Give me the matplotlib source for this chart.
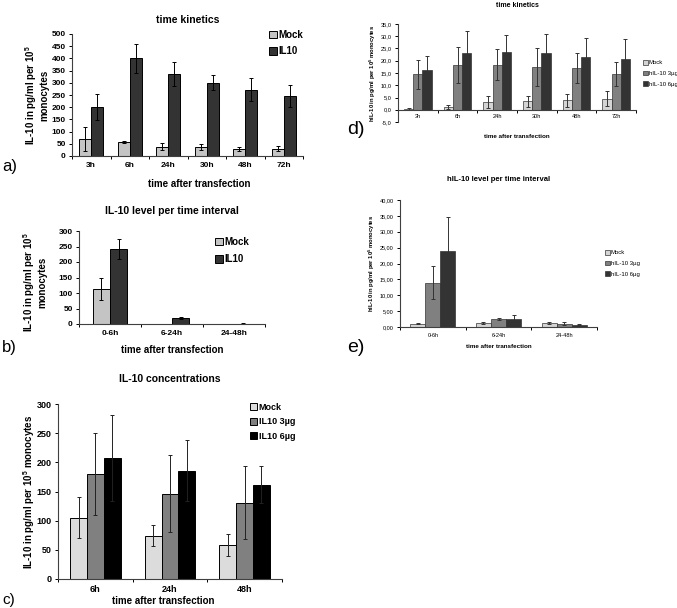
import matplotlib
matplotlib.use('Agg')
import matplotlib.pyplot as plt
import numpy as np
from matplotlib.ticker import FuncFormatter, MultipleLocator

plt.rcParams['font.family'] = ['Liberation Sans', 'DejaVu Sans']
plt.rcParams['mathtext.fontset'] = 'custom'
plt.rcParams['mathtext.rm'] = 'Liberation Sans'
plt.rcParams['mathtext.bf'] = 'Liberation Sans:bold'

# ---------------- data ----------------
a_cats = ['3h', '6h', '24h', '30h', '48h', '72h']
a_mock = [70, 58, 38, 37, 29, 29]
a_mock_err = [50, 5, 15, 13, 9, 10]
a_il10 = [200, 400, 335, 300, 272, 245]
a_il10_err = [53, 59, 49, 30, 46, 45]

b_cats = ['0-6h', '6-24h', '24-48h']
b_mock = [114, 1, 0.5]
b_mock_err = [36, 0, 0]
b_il10 = [243, 19, 1.5]
b_il10_err = [32, 3, 1]

c_cats = ['6h', '24h', '48h']
c_mock = [105, 74, 58]
c_mock_err = [35, 18, 19]
c_3ug = [180, 146, 131]
c_3ug_err = [71, 66, 62]
c_6ug = [208, 186, 162]
c_6ug_err = [74, 52, 31]

d_cats = ['3h', '6h', '24h', '30h', '48h', '72h']
d_mock = [0.4, 1.3, 3.2, 3.4, 3.8, 4.5]
d_mock_err = [0.4, 0.8, 2.4, 2.3, 2.7, 3.0]
d_3ug = [14.4, 18.4, 18.4, 17.4, 17.0, 14.4]
d_3ug_err = [5.9, 7.3, 6.3, 7.7, 6.1, 4.9]
d_6ug = [16.2, 23.3, 23.5, 23.1, 21.5, 20.6]
d_6ug_err = [5.8, 8.9, 7.0, 7.8, 7.7, 8.1]

e_cats = ['0-6h', '6-24h', '24-48h']
e_mock = [1.1, 1.25, 1.3]
e_mock_err = [0.3, 0.2, 0.25]
e_3ug = [14.0, 2.5, 1.05]
e_3ug_err = [5.3, 0.2, 0.4]
e_6ug = [24.0, 2.6, 0.75]
e_6ug_err = [10.6, 1.2, 0.25]

W, H = 677, 608
fig = plt.figure(figsize=(W / 100, H / 100), dpi=100)
fig.patch.set_facecolor('white')


def axpx(l, t, r, b):
    return fig.add_axes([l / W, 1 - b / H, (r - l) / W, (b - t) / H])


def fx(x):
    return x / W


def fy(y):
    return 1 - y / H


def draw_bars(ax, cats, series, width, bold, tick_fs, ecol='black', edge='black', lw=0.7, cap=1.5, xpad=4):
    n = len(cats)
    x = np.arange(n)
    k = len(series)
    for i, (vals, errs, col, lab) in enumerate(series):
        off = (i - (k - 1) / 2) * width
        ax.bar(x + off, vals, width, color=col, edgecolor=edge, linewidth=lw,
               yerr=errs, error_kw=dict(ecolor=ecol, elinewidth=0.7, capsize=cap, capthick=0.7),
               label=lab, zorder=2)
    ax.set_xlim(-0.5, n - 0.5)
    ax.set_xticks(x)
    ax.set_xticklabels(cats)
    ax.set_xticks(np.arange(n + 1) - 0.5, minor=True)
    ax.tick_params(axis='x', which='major', length=0, pad=xpad, labelsize=tick_fs)
    ax.tick_params(axis='x', which='minor', length=2.5, width=0.7, direction='out')
    ax.tick_params(axis='y', length=2.5, width=0.7, direction='out', labelsize=tick_fs, pad=2)
    w = 'bold' if bold else 'normal'
    for lab in ax.get_yticklabels() + ax.get_xticklabels():
        lab.set_fontweight(w)
    ax.spines['top'].set_visible(False)
    ax.spines['right'].set_visible(False)
    for s in ['left', 'bottom']:
        ax.spines[s].set_linewidth(0.8)
        ax.spines[s].set_color('#404040')
    ax.set_facecolor('none')


def legend(ax, x, y, fs, bold, gap):
    leg = ax.legend(loc='upper left', bbox_to_anchor=(fx(x), fy(y)), bbox_transform=fig.transFigure,
                    frameon=False, handlelength=0.8, handleheight=0.8,
                    handletextpad=0.15, labelspacing=gap, borderpad=0, borderaxespad=0,
                    prop=dict(weight='bold' if bold else 'normal', size=fs))
    return leg


# ---------------- panel a ----------------
ax = axpx(72, 34, 303, 156)
draw_bars(ax, a_cats, [(a_mock, a_mock_err, '#c4c4c4', 'Mock'),
                       (a_il10, a_il10_err, '#333333', 'IL10')], 0.31, True, 6)
ax.set_ylim(0, 500)
ax.yaxis.set_major_locator(MultipleLocator(50))
ax.set_title('time kinetics', fontsize=7.5, fontweight='bold', pad=8)
ax.set_ylabel('IL-10 in pg/ml per 10$^{\\mathbf{5}}$\nmonocytes', fontsize=7, fontweight='bold', linespacing=1.0)
ax.yaxis.set_label_coords(-0.10, 0.5)
ax.set_xlabel('time after transfection', fontsize=7, fontweight='bold')
ax.xaxis.set_label_coords(0.55, -0.19)
legend(ax, 269, 30, 7, True, 0.65)
fig.text(fx(2), fy(167), 'a)', fontsize=12, va='center', ha='left')

# ---------------- panel b ----------------
ax = axpx(79, 231, 265, 324)
draw_bars(ax, b_cats, [(b_mock, b_mock_err, '#c4c4c4', 'Mock'),
                       (b_il10, b_il10_err, '#333333', 'IL10')], 0.28, True, 6)
ax.set_ylim(0, 300)
ax.yaxis.set_major_locator(MultipleLocator(50))
ax.set_title('IL-10 level per time interval', fontsize=7.5, fontweight='bold', pad=12)
ax.set_ylabel('IL-10 in pg/ml per 10$^{\\mathbf{5}}$\nmonocytes', fontsize=7, fontweight='bold', linespacing=1.0)
ax.yaxis.set_label_coords(-0.17, 0.45)
ax.set_xlabel('time after transfection', fontsize=7, fontweight='bold')
ax.xaxis.set_label_coords(0.5, -0.23)
legend(ax, 215, 237, 7, True, 0.75)
fig.text(fx(2), fy(348), 'b)', fontsize=12, va='center', ha='left')

# ---------------- panel c ----------------
ax = axpx(58, 404, 282, 579)
draw_bars(ax, c_cats, [(c_mock, c_mock_err, '#dcdcdc', 'Mock'),
                       (c_3ug, c_3ug_err, '#808080', 'IL10 3µg'),
                       (c_6ug, c_6ug_err, '#000000', 'IL10 6µg')], 0.225, True, 6.5, ecol='#222222')
ax.set_ylim(0, 300)
ax.yaxis.set_major_locator(MultipleLocator(50))
ax.set_title('IL-10 concentrations', fontsize=7.5, fontweight='bold', pad=16)
ax.set_ylabel('IL-10 in pg/ml per 10$^{\\mathbf{5}}$ monocytes', fontsize=7, fontweight='bold')
ax.yaxis.set_label_coords(-0.095, 0.5)
ax.set_xlabel('time after transfection', fontsize=7, fontweight='bold')
ax.xaxis.set_label_coords(0.47, -0.1)
legend(ax, 250, 403, 6.5, True, 0.6)
fig.text(fx(2), fy(600), 'c)', fontsize=11, va='center', ha='left')

# ---------------- panel d ----------------
ax = axpx(398, 24, 636, 122)
draw_bars(ax, d_cats, [(d_mock, d_mock_err, '#d4d4d4', 'Mock'),
                       (d_3ug, d_3ug_err, '#808080', 'hIL-10 3µg'),
                       (d_6ug, d_6ug_err, '#333333', 'hIL-10 6µg')], 0.23, False, 4.1,
          ecol='#333333', edge='#333333', lw=0.5, cap=1.5, xpad=3)
ax.set_ylim(-5, 35)
ax.yaxis.set_major_locator(MultipleLocator(5))
ax.yaxis.set_major_formatter(FuncFormatter(lambda v, p: ('%.1f' % v).replace('.', ',')))
ax.spines['bottom'].set_position(('data', 0))
ax.set_title('time kinetics', fontsize=5, fontweight='bold', pad=12)
ax.set_ylabel('hIL-10 in pg/ml per 10$^{\\mathbf{5}}$ monocytes', fontsize=4.2, fontweight='bold')
ax.yaxis.set_label_coords(-0.085, 0.5)
ax.text(0.5, -0.12, 'time after transfection', transform=ax.transAxes, fontsize=4.5,
        fontweight='bold', ha='center', va='top')
legend(ax, 643, 60, 4.3, False, 0.9)
fig.text(fx(347), fy(129), 'd)', fontsize=14, va='center', ha='left')

# ---------------- panel e ----------------
ax = axpx(400, 200, 597, 327)
draw_bars(ax, e_cats, [(e_mock, e_mock_err, '#d4d4d4', 'Mock'),
                       (e_3ug, e_3ug_err, '#808080', 'hIL-10 3µg'),
                       (e_6ug, e_6ug_err, '#333333', 'hIL-10 6µg')], 0.23, False, 4.0,
          ecol='#333333', edge='#333333', lw=0.5, cap=1.5)
ax.set_ylim(0, 40)
ax.yaxis.set_major_locator(MultipleLocator(5))
ax.yaxis.set_major_formatter(FuncFormatter(lambda v, p: ('%.2f' % v).replace('.', ',')))
ax.set_title('hIL-10 level per time interval', fontsize=5.5, fontweight='bold', pad=14)
ax.set_ylabel('hIL-10 in pg/ml per 10$^{\\mathbf{5}}$ monocytes', fontsize=4.2, fontweight='bold')
ax.yaxis.set_label_coords(-0.115, 0.5)
ax.set_xlabel('time after transfection', fontsize=4.5, fontweight='bold')
ax.xaxis.set_label_coords(0.5, -0.13)
legend(ax, 605, 250, 4.3, False, 0.9)
fig.text(fx(347), fy(347), 'e)', fontsize=14, va='center', ha='left')

fig.savefig('out.png', dpi=100, facecolor='white')
